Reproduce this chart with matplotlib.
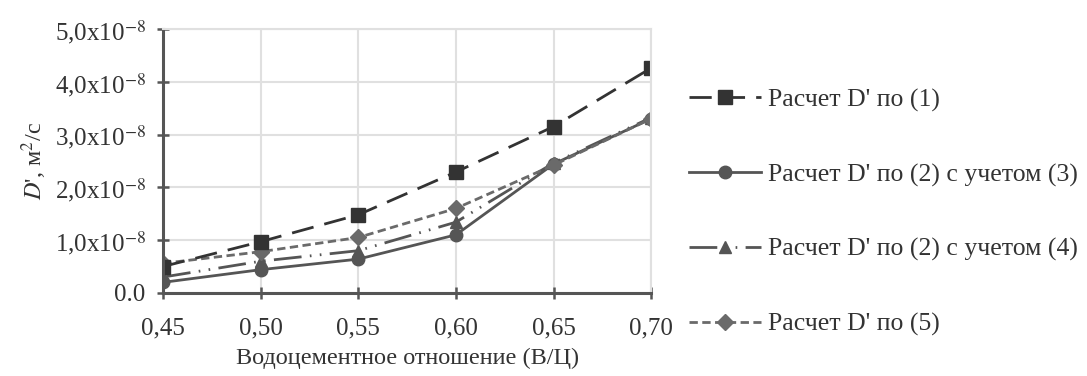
import matplotlib.pyplot as plt
from matplotlib.ticker import FixedLocator

wc_ratio = [0.45, 0.50, 0.55, 0.60, 0.65, 0.70]
d_eq1 = [0.50, 0.97, 1.48, 2.29, 3.15, 4.26]
d_eq2_3 = [0.20, 0.44, 0.64, 1.10, 2.44, 3.30]
d_eq2_4 = [0.30, 0.60, 0.80, 1.34, 2.46, 3.32]
d_eq5 = [0.56, 0.78, 1.05, 1.60, 2.42, 3.30]

labels = [
    "Расчет D' по (1)",
    "Расчет D' по (2) с учетом (3)",
    "Расчет D' по (2) с учетом (4)",
    "Расчет D' по (5)",
]
x_ticks = [0.45, 0.50, 0.55, 0.60, 0.65, 0.70]
x_ticklabels = ["0,45", "0,50", "0,55", "0,60", "0,65", "0,70"]
y_ticks = [0, 1, 2, 3, 4, 5]
y_ticklabels = ["0.0"] + [f"{v},0x10$^{{-8}}$" for v in y_ticks[1:]]

plt.rcParams["font.family"] = ["Liberation Serif", "DejaVu Serif"]
plt.rcParams["mathtext.fontset"] = "stix"

fig = plt.figure(figsize=(10.87, 3.76), dpi=100)
ax = fig.add_axes([0.150, 0.221, 0.449, 0.702])

styles = [
    dict(color="#333333", marker="s", markersize=10, linestyle=(0, (8, 4))),
    dict(color="#555555", marker="o", markersize=9, linestyle="-"),
    dict(color="#555555", marker="^", markersize=8, linestyle=(0, (10, 3, 0.6, 3, 0.6, 3))),
    dict(color="#6a6a6a", marker="D", markersize=8, linestyle=(0, (3, 1.6))),
]
series = [d_eq1, d_eq2_3, d_eq2_4, d_eq5]
order = [1, 2, 3, 0]
handles = {}
for i in order:
    (h,) = ax.plot(wc_ratio, series[i], linewidth=2, label=labels[i], **styles[i])
    handles[i] = h

ax.set_xlim(0.45, 0.70)
ax.set_ylim(0, 5)
ax.xaxis.set_major_locator(FixedLocator(x_ticks))
ax.set_xticklabels(x_ticklabels)
ax.yaxis.set_major_locator(FixedLocator(y_ticks))
ax.set_yticklabels(y_ticklabels)
ax.grid(True, color="#e0e0e0", linewidth=1.5)
ax.set_axisbelow(True)

for side in ("top", "right"):
    ax.spines[side].set_color("#e0e0e0")
    ax.spines[side].set_linewidth(1.5)
for side in ("left", "bottom"):
    ax.spines[side].set_color("#555555")
    ax.spines[side].set_linewidth(2.2)
ax.tick_params(direction="inout", length=9, width=1.8, color="#555555",
               labelsize=18, labelcolor="#333333")
ax.tick_params(axis="x", pad=13)
ax.tick_params(axis="y", pad=8)

ax.set_xlabel("Водоцементное отношение (В/Ц)", fontsize=17.5, color="#333333", labelpad=6)
ax.set_ylabel("$\\mathit{D}$', м$^2$/с", fontsize=17.5, color="#333333", labelpad=4)

fig.legend([handles[i] for i in range(4)], labels, loc="upper left",
           bbox_to_anchor=(0.634, 0.765), frameon=False, fontsize=18.5,
           handlelength=2.8, handletextpad=0.25, labelspacing=2.0, numpoints=1,
           labelcolor="#333333", borderaxespad=0, borderpad=0)

fig.savefig("out.png", dpi=100)
